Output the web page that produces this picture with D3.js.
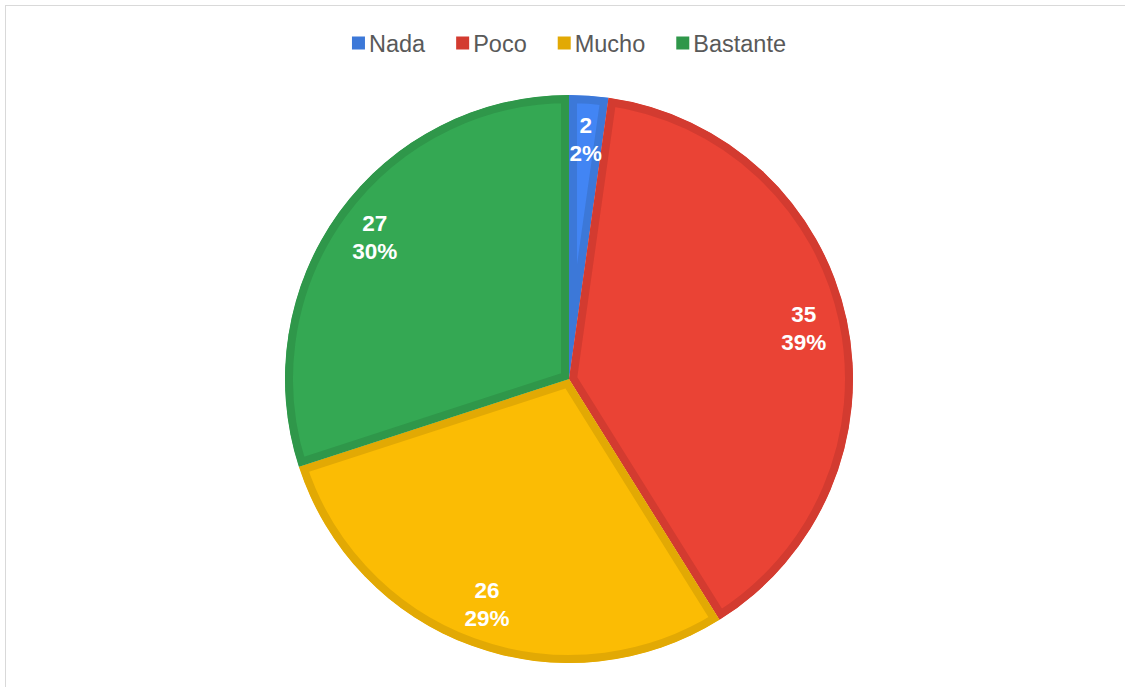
<!DOCTYPE html>
<html>
<head>
<meta charset="utf-8">
<script src="https://cdn.jsdelivr.net/npm/d3@7"></script>
<style>
  html, body { margin: 0; padding: 0; background: #fff; }
  svg { display: block; }
</style>
</head>
<body>
<svg id="chart" width="1125" height="687"></svg>
<script>
// Survey answers
const categories = ["Nada", "Poco", "Mucho", "Bastante"];
const values = [2, 35, 26, 27];
const fillColors = ["#4285f4", "#ea4335", "#fbbc04", "#34a853"];
const edgeColors = ["#3c78d8", "#d33b30", "#e2a904", "#2f974a"];

const W = 1125, H = 687;
const svg = d3.select("#chart");
const defs = svg.append("defs");

// outer frame
svg.append("rect")
  .attr("x", 5.5).attr("y", 5.5)
  .attr("width", W + 10).attr("height", H + 10)
  .attr("fill", "#fff").attr("stroke", "#d9d9d9").attr("stroke-width", 1);

const cx = 569, cy = 379, R = 284;
const total = d3.sum(values);

const pie = d3.pie().sort(null).value(d => d)(values);
const arc = d3.arc().innerRadius(0).outerRadius(R);
const labelArc = d3.arc().innerRadius(240).outerRadius(240);

const g = svg.append("g").attr("transform", `translate(${cx},${cy})`);
const slices = g.append("g");
const labels = g.append("g");

pie.forEach((p, i) => {
  const id = "slice-clip-" + i;
  defs.append("clipPath").attr("id", id)
    .append("path").attr("d", arc(p));
  // slice fill with an inner darker edge
  slices.append("path")
    .attr("d", arc(p))
    .attr("fill", fillColors[i])
    .attr("stroke", edgeColors[i])
    .attr("stroke-width", 16)
    .attr("stroke-linejoin", "miter")
    .attr("clip-path", `url(#${id})`);
});

// value + percentage labels
const fmtPct = v => Math.round(v / total * 100) + "%";
pie.forEach((p, i) => {
  const [lx, ly] = labelArc.centroid(p);
  const t = labels.append("text")
    .attr("x", lx).attr("y", ly)
    .attr("text-anchor", "middle")
    .attr("font-family", "Liberation Sans, Arial, sans-serif")
    .attr("font-weight", "bold")
    .attr("font-size", 22.5)
    .attr("fill", "#fff");
  t.append("tspan").attr("x", lx).attr("dy", -7).text(values[i]);
  t.append("tspan").attr("x", lx).attr("dy", 28).text(fmtPct(values[i]));
});

// legend
const legend = svg.append("g");
const fontSize = 23.5, sq = 13, gapSq = 4, gapItem = 31;
let x = 0;
categories.forEach((c, i) => {
  const it = legend.append("g");
  it.append("rect").attr("x", 0).attr("y", -sq / 2 - 1).attr("width", sq).attr("height", sq)
    .attr("fill", edgeColors[i]);
  const tx = it.append("text").attr("x", sq + gapSq).attr("y", 0)
    .attr("dy", "0.35em")
    .attr("font-family", "Liberation Sans, Arial, sans-serif")
    .attr("font-size", fontSize)
    .attr("fill", "#595959")
    .text(c);
  const w = sq + gapSq + tx.node().getComputedTextLength();
  it.attr("transform", `translate(${x},0)`);
  x += w + gapItem;
});
const totalW = x - gapItem;
legend.attr("transform", `translate(${cx - totalW / 2},44)`);
</script>
</body>
</html>
